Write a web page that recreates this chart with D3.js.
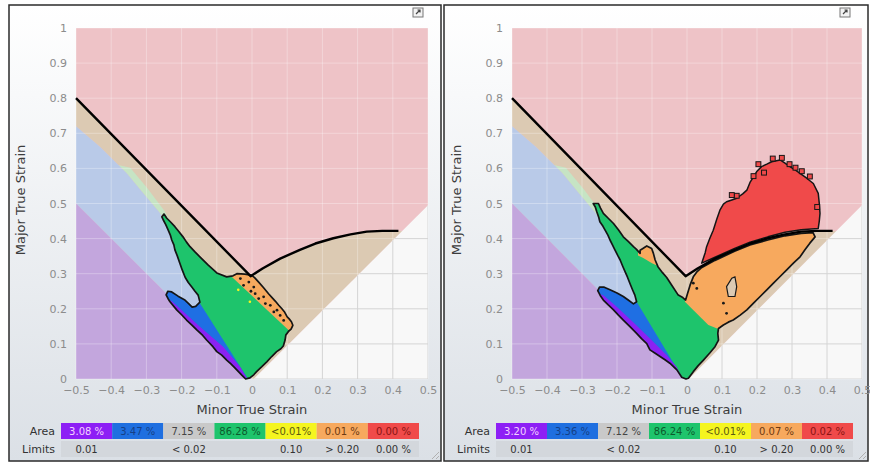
<!DOCTYPE html>
<html>
<head>
<meta charset="utf-8">
<title>Forming Limit Diagram</title>
<script src="https://d3js.org/d3.v7.min.js"></script>
<style>
  body { margin: 0; background: #fff; }
  text { font-family: "DejaVu Sans", sans-serif; }
</style>
</head>
<body>
<script>
// ---- axis ticks ----
var minorTicks = [-0.5, -0.4, -0.3, -0.2, -0.1, 0, 0.1, 0.2, 0.3, 0.4, 0.5];
var majorTicks = [0, 0.1, 0.2, 0.3, 0.4, 0.5, 0.6, 0.7, 0.8, 0.9, 1];

// ---- forming limit curve and zone edges (minor, major) ----
var flc = [[-0.5, 0.8], [-0.004, 0.293], [0.03, 0.315], [0.08, 0.343], [0.136, 0.368], [0.18, 0.386],
           [0.231, 0.401], [0.28, 0.412], [0.326, 0.42], [0.37, 0.422], [0.416, 0.422]];
var wrinkleEdge = [[-0.5, 0.72], [-0.432, 0.662], [-0.356, 0.586], [-0.309, 0.529], [-0.261, 0.472], [0, 0]];
var shearLine = [[-0.5, 0.5], [0, 0]];
var biaxialLine = [[0.005, 0], [0.5, 0.495]];
var flcEndOnBiaxial = [0.427, 0.422];
var goodBand = [[-0.38, 0.61], [-0.356, 0.586], [-0.309, 0.529], [-0.261, 0.472], [-0.225, 0.405],
                [-0.212, 0.41], [-0.248, 0.478], [-0.296, 0.542], [-0.346, 0.602]];

// ---- left panel strain distribution ----
var leftOutline = [
  [-0.250, 0.470], [-0.256, 0.462], [-0.252, 0.453], [-0.245, 0.440], [-0.238, 0.424], [-0.232, 0.410],
  [-0.228, 0.396], [-0.222, 0.382], [-0.219, 0.368], [-0.212, 0.350], [-0.205, 0.330], [-0.198, 0.310],
  [-0.190, 0.290], [-0.181, 0.275], [-0.171, 0.262], [-0.162, 0.250], [-0.153, 0.239], [-0.148, 0.219],
  [-0.160, 0.207], [-0.170, 0.205], [-0.180, 0.215], [-0.192, 0.226], [-0.210, 0.236], [-0.228, 0.248],
  [-0.239, 0.250], [-0.244, 0.240], [-0.238, 0.228], [-0.233, 0.220], [-0.214, 0.197], [-0.200, 0.183],
  [-0.186, 0.168], [-0.170, 0.153], [-0.157, 0.140], [-0.140, 0.124], [-0.129, 0.111], [-0.111, 0.092],
  [-0.100, 0.078], [-0.086, 0.068], [-0.072, 0.054], [-0.060, 0.043], [-0.048, 0.031], [-0.029, 0.011],
  [-0.018, 0.000], [-0.006, 0.003], [0.005, 0.012], [0.013, 0.021], [0.028, 0.035], [0.042, 0.049],
  [0.056, 0.064], [0.070, 0.078], [0.082, 0.086], [0.089, 0.094], [0.094, 0.111], [0.096, 0.125],
  [0.104, 0.136], [0.111, 0.142], [0.116, 0.153], [0.112, 0.163], [0.105, 0.172], [0.100, 0.177],
  [0.093, 0.190], [0.085, 0.200], [0.076, 0.210], [0.066, 0.222], [0.057, 0.232], [0.047, 0.243],
  [0.033, 0.260], [0.019, 0.276], [0.008, 0.288], [0.000, 0.295], [-0.020, 0.299], [-0.043, 0.300],
  [-0.054, 0.294], [-0.072, 0.291], [-0.100, 0.302], [-0.125, 0.325], [-0.148, 0.348], [-0.162, 0.362],
  [-0.176, 0.377], [-0.186, 0.390], [-0.196, 0.405], [-0.208, 0.420], [-0.219, 0.434], [-0.232, 0.448],
  [-0.242, 0.458]
];
var leftBlue = [[-0.148, 0.216], [-0.005, -0.01], [-0.3, -0.01], [-0.3, 0.27], [-0.2, 0.27]];
var leftPurple = [[-0.226, 0.22], [-0.148, 0.149], [-0.082, 0.092], [-0.034, 0.035], [-0.013, 0.0],
                  [-0.005, -0.02], [-0.1, -0.02], [-0.3, 0.2], [-0.26, 0.24]];
var leftOrange = [[-0.07, 0.303], [-0.07, 0.4], [0.3, 0.4], [0.3, 0.129], [0.115, 0.129]];
var leftSpeckles = [[-0.033, 0.286], [-0.024, 0.267], [-0.009, 0.276], [0.005, 0.262], [0.009, 0.243],
                    [-0.003, 0.25], [0.019, 0.229], [0.033, 0.234], [0.038, 0.215], [0.052, 0.21],
                    [0.062, 0.191], [0.071, 0.196], [0.08, 0.181], [0.09, 0.167]];
var leftYellow = [[-0.039, 0.254], [-0.006, 0.22]];

// ---- right panel strain distribution ----
var rightOutline = [
  [-0.268, 0.500], [-0.262, 0.490], [-0.258, 0.477], [-0.252, 0.460], [-0.249, 0.448], [-0.240, 0.435],
  [-0.234, 0.424], [-0.226, 0.410], [-0.220, 0.396], [-0.213, 0.382], [-0.206, 0.368], [-0.198, 0.352],
  [-0.191, 0.339], [-0.184, 0.322], [-0.177, 0.306], [-0.170, 0.290], [-0.163, 0.272], [-0.156, 0.255],
  [-0.149, 0.239], [-0.144, 0.220], [-0.153, 0.214], [-0.168, 0.225], [-0.182, 0.235], [-0.200, 0.245],
  [-0.220, 0.254], [-0.238, 0.262], [-0.250, 0.262], [-0.255, 0.252], [-0.248, 0.238], [-0.239, 0.225],
  [-0.225, 0.211], [-0.210, 0.197], [-0.196, 0.182], [-0.182, 0.168], [-0.163, 0.149], [-0.144, 0.130],
  [-0.130, 0.115], [-0.115, 0.101], [-0.106, 0.083], [-0.092, 0.074], [-0.077, 0.064], [-0.063, 0.055],
  [-0.049, 0.045], [-0.029, 0.026], [-0.015, 0.005], [-0.003, 0.000], [0.004, 0.002], [0.018, 0.021],
  [0.032, 0.038], [0.047, 0.054], [0.065, 0.074], [0.080, 0.092], [0.090, 0.111], [0.088, 0.130],
  [0.090, 0.144], [0.104, 0.154], [0.118, 0.162], [0.132, 0.168], [0.152, 0.182], [0.171, 0.197],
  [0.190, 0.216], [0.209, 0.235], [0.228, 0.254], [0.247, 0.273], [0.266, 0.292], [0.285, 0.311],
  [0.304, 0.330], [0.323, 0.348], [0.337, 0.368], [0.351, 0.387], [0.366, 0.405], [0.360, 0.417],
  [0.326, 0.415], [0.280, 0.408], [0.231, 0.396], [0.180, 0.382], [0.136, 0.364], [0.080, 0.338],
  [0.040, 0.316], [0.029, 0.306], [0.018, 0.291], [0.009, 0.268], [0.002, 0.245], [-0.004, 0.225],
  [-0.012, 0.232], [-0.025, 0.239], [-0.044, 0.268], [-0.058, 0.289], [-0.070, 0.303], [-0.083, 0.320],
  [-0.091, 0.339], [-0.096, 0.358], [-0.101, 0.372], [-0.115, 0.379], [-0.126, 0.372], [-0.134, 0.367],
  [-0.134, 0.358], [-0.145, 0.370], [-0.153, 0.377], [-0.168, 0.392], [-0.182, 0.405], [-0.196, 0.425],
  [-0.210, 0.443], [-0.225, 0.458], [-0.239, 0.472], [-0.247, 0.487], [-0.253, 0.500]
];
var rightBlue = [[-0.144, 0.22], [-0.005, -0.01], [-0.3, -0.01], [-0.3, 0.28], [-0.19, 0.28]];
var rightPurple = [[-0.238, 0.238], [-0.2, 0.205], [-0.15, 0.158], [-0.1, 0.11], [-0.06, 0.07],
                   [-0.03, 0.035], [-0.012, 0.0], [-0.005, -0.02], [-0.1, -0.02], [-0.3, 0.2], [-0.27, 0.25]];
var rightOrange = [[-0.006, 0.22], [0.0, 0.6], [0.5, 0.6], [0.5, 0.14], [0.095, 0.14], [0.061, 0.154]];
var rightLump = [[-0.14, 0.40], [-0.07, 0.40], [-0.078, 0.32], [-0.1, 0.33], [-0.125, 0.345], [-0.14, 0.352]];
var rightHole = [[0.113, 0.263], [0.128, 0.287], [0.137, 0.291], [0.142, 0.263], [0.137, 0.235], [0.118, 0.235]];
var rightSpeckles = [[0.018, 0.273], [0.028, 0.258], [0.104, 0.216], [0.113, 0.187]];
var rightRed = [
  [0.042, 0.330], [0.047, 0.345], [0.052, 0.360], [0.056, 0.377], [0.065, 0.400], [0.075, 0.424],
  [0.085, 0.455], [0.094, 0.481], [0.104, 0.498], [0.113, 0.505], [0.128, 0.510], [0.142, 0.515],
  [0.160, 0.528], [0.171, 0.538], [0.180, 0.560], [0.190, 0.576], [0.200, 0.592], [0.213, 0.605],
  [0.228, 0.612], [0.242, 0.619], [0.266, 0.624], [0.280, 0.615], [0.294, 0.605], [0.310, 0.595],
  [0.323, 0.586], [0.342, 0.572], [0.361, 0.557], [0.375, 0.529], [0.378, 0.500], [0.380, 0.472],
  [0.378, 0.450], [0.375, 0.429], [0.326, 0.425], [0.280, 0.418], [0.231, 0.405], [0.180, 0.390],
  [0.136, 0.372], [0.080, 0.347]
];
var rightSquares = [[0.204, 0.612], [0.245, 0.628], [0.271, 0.630], [0.293, 0.612], [0.328, 0.592],
                    [0.351, 0.577], [0.19, 0.578], [0.142, 0.522], [0.128, 0.524], [0.372, 0.49],
                    [0.22, 0.588], [0.31, 0.602]];

// ---- legend ----
var legendColors = ["#8d1ff5", "#1f6fe0", "#c9c9c9", "#1ec46c", "#f5f520", "#f7a95e", "#f04a4a"];
var legendTextColors = ["#f4d2ff", "#163f86", "#444444", "#0d5a2c", "#5c5a10", "#6e3a12", "#8a1414"];
var areaLeft = ["3.08 %", "3.47 %", "7.15 %", "86.28 %", "<0.01%", "0.01 %", "0.00 %"];
var areaRight = ["3.20 %", "3.36 %", "7.12 %", "86.24 %", "<0.01%", "0.07 %", "0.02 %"];
var limitLabels = ["0.01", "", "< 0.02", "", "0.10", "> 0.20", "0.00 %"];

var W = 870, H = 463;
var svg = d3.select("body").append("svg").attr("width", W).attr("height", H);
var defs = svg.append("defs");
var grad = defs.append("linearGradient").attr("id", "panelbg")
  .attr("x1", 0).attr("y1", 0).attr("x2", 0).attr("y2", 1);
grad.append("stop").attr("offset", "0%").attr("stop-color", "#ffffff");
grad.append("stop").attr("offset", "100%").attr("stop-color", "#dbe0e6");

var panels = [
  {id: "L", box: [9, 5, 441, 461], plot: [76, 428], legend: [61, 419], labelX: 55,
   area: areaLeft, outline: leftOutline,
   parts: [[leftBlue, "#1f6fe3"], [leftPurple, "#8b22f2"], [leftOrange, "#f7a95e"]],
   speckles: leftSpeckles, yellow: leftYellow},
  {id: "R", box: [444, 5, 868, 461], plot: [512, 862], legend: [496, 853], labelX: 490,
   area: areaRight, outline: rightOutline,
   parts: [[rightBlue, "#1f6fe3"], [rightPurple, "#8b22f2"], [rightOrange, "#f7a95e"], [rightLump, "#f7a95e"]],
   speckles: rightSpeckles, yellow: [], red: rightRed, squares: rightSquares, hole: rightHole}
];

panels.forEach(function(p) {
  var b = p.box;
  svg.append("rect").attr("x", b[0]).attr("y", b[1]).attr("width", b[2] - b[0]).attr("height", b[3] - b[1])
    .attr("fill", "url(#panelbg)").attr("stroke", "#2b2b2b").attr("stroke-width", 1.5);

  var x = d3.scaleLinear().domain([-0.5, 0.5]).range(p.plot);
  var y = d3.scaleLinear().domain([0, 1]).range([379, 28]);
  var line = d3.line().x(function(d) { return x(d[0]); }).y(function(d) { return y(d[1]); });
  var g = svg.append("g");

  // zones
  g.append("rect").attr("x", x(-0.5)).attr("y", y(1)).attr("width", x(0.5) - x(-0.5))
    .attr("height", y(0) - y(1)).attr("fill", "#eec3c7");
  var tan = flc.concat([flcEndOnBiaxial, biaxialLine[0]]).concat(wrinkleEdge.slice().reverse());
  g.append("path").attr("d", line(tan) + "Z").attr("fill", "#dccab3");
  g.append("path").attr("d", line(goodBand) + "Z").attr("fill", "#c6e4c4");
  g.append("path").attr("d", line(wrinkleEdge.concat([shearLine[0]])) + "Z").attr("fill", "#b9cae8");
  g.append("path").attr("d", line(shearLine.concat([[-0.5, 0]])) + "Z").attr("fill", "#c3a6dd");
  var white = biaxialLine.concat([[0.5, 0]]);
  g.append("path").attr("d", line(white) + "Z").attr("fill", "#f8f8f8");

  // grid
  var grid = g.append("g").attr("stroke", "#ffffff").attr("stroke-opacity", 0.3);
  grid.selectAll(".v").data(minorTicks).enter().append("line")
    .attr("x1", function(d) { return x(d); }).attr("x2", function(d) { return x(d); })
    .attr("y1", y(0)).attr("y2", y(1));
  grid.selectAll(".h").data(majorTicks).enter().append("line")
    .attr("y1", function(d) { return y(d); }).attr("y2", function(d) { return y(d); })
    .attr("x1", x(-0.5)).attr("x2", x(0.5));
  defs.append("clipPath").attr("id", "white" + p.id).append("path").attr("d", line(white) + "Z");
  var wgrid = g.append("g").attr("clip-path", "url(#white" + p.id + ")").attr("stroke", "#d4d4d4");
  wgrid.selectAll(".v").data(minorTicks).enter().append("line")
    .attr("x1", function(d) { return x(d); }).attr("x2", function(d) { return x(d); })
    .attr("y1", y(0)).attr("y2", y(1));
  wgrid.selectAll(".h").data(majorTicks).enter().append("line")
    .attr("y1", function(d) { return y(d); }).attr("y2", function(d) { return y(d); })
    .attr("x1", x(-0.5)).attr("x2", x(0.5));

  // strain distribution
  defs.append("clipPath").attr("id", "cloud" + p.id).append("path").attr("d", line(p.outline) + "Z");
  var c = g.append("g").attr("clip-path", "url(#cloud" + p.id + ")");
  c.append("path").attr("d", line(p.outline) + "Z").attr("fill", "#1ec46c");
  p.parts.forEach(function(part) {
    c.append("path").attr("d", line(part[0]) + "Z").attr("fill", part[1]);
  });
  c.selectAll(".yl").data(p.yellow).enter().append("circle")
    .attr("cx", function(d) { return x(d[0]); }).attr("cy", function(d) { return y(d[1]); })
    .attr("r", 1.3).attr("fill", "#f5f520");
  if (p.hole) {
    g.append("path").attr("d", line(p.hole) + "Z").attr("fill", "#dccab3")
      .attr("stroke", "#1a1a1a").attr("stroke-width", 1.2);
  }
  g.append("path").attr("d", line(p.outline) + "Z").attr("fill", "none")
    .attr("stroke", "#151515").attr("stroke-width", 1.7).attr("stroke-linejoin", "round");
  g.selectAll(".sp").data(p.speckles).enter().append("circle")
    .attr("cx", function(d) { return x(d[0]); }).attr("cy", function(d) { return y(d[1]); })
    .attr("r", 1.4).attr("fill", "#1a1a1a");

  if (p.red) {
    g.append("path").attr("d", line(p.red) + "Z").attr("fill", "#f04a4a")
      .attr("stroke", "#151515").attr("stroke-width", 1.5).attr("stroke-linejoin", "round");
    g.selectAll(".sq").data(p.squares).enter().append("rect")
      .attr("x", function(d) { return x(d[0] - 0.007); }).attr("y", function(d) { return y(d[1] + 0.007); })
      .attr("width", function(d) { return x(d[0] + 0.007) - x(d[0] - 0.007); })
      .attr("height", function(d) { return y(d[1] - 0.007) - y(d[1] + 0.007); })
      .attr("fill", "#f04a4a").attr("stroke", "#151515").attr("stroke-width", 1);
  }

  // forming limit curve
  g.append("path").attr("d", line(flc)).attr("fill", "none")
    .attr("stroke", "#000").attr("stroke-width", 2.4).attr("stroke-linejoin", "round");

  // axes
  var ax = g.append("g").attr("transform", "translate(0," + 390.5 + ")")
    .call(d3.axisBottom(x).tickValues(minorTicks).tickSize(0).tickPadding(0).tickFormat(d3.format("")));
  ax.select(".domain").remove();
  ax.selectAll("text").attr("fill", "#8c8c8c").attr("font-size", 11).attr("dy", "0.35em")
    .attr("font-family", "DejaVu Sans");
  var ay = g.append("g").attr("transform", "translate(" + (p.plot[0] - 9) + ",0)")
    .call(d3.axisLeft(y).tickValues(majorTicks).tickSize(0).tickPadding(0).tickFormat(d3.format("")));
  ay.select(".domain").remove();
  ay.selectAll("text").attr("fill", "#8c8c8c").attr("font-size", 11).attr("font-family", "DejaVu Sans");

  g.append("text").attr("x", x(0)).attr("y", 409).attr("dy", "0.35em").attr("text-anchor", "middle")
    .attr("font-size", 13).attr("fill", "#3c3c3c").text("Minor True Strain");
  g.append("text").attr("transform", "translate(" + (p.plot[0] - 56) + "," + 200 + ") rotate(-90)")
    .attr("dy", "0.35em").attr("text-anchor", "middle")
    .attr("font-size", 13).attr("fill", "#3c3c3c").text("Major True Strain");

  // legend
  var lx = d3.scaleBand().domain(d3.range(legendColors.length)).range(p.legend);
  g.append("rect").attr("x", p.legend[0]).attr("y", 441).attr("width", p.legend[1] - p.legend[0])
    .attr("height", 16).attr("fill", "#d3d7dc");
  g.selectAll(".lb").data(legendColors).enter().append("rect")
    .attr("x", function(d, i) { return lx(i); }).attr("y", 423).attr("width", lx.bandwidth())
    .attr("height", 16).attr("fill", function(d) { return d; });
  g.selectAll(".lt").data(p.area).enter().append("text")
    .attr("x", function(d, i) { return lx(i) + lx.bandwidth() / 2; }).attr("y", 431).attr("dy", "0.35em")
    .attr("text-anchor", "middle").attr("font-size", 10)
    .attr("fill", function(d, i) { return legendTextColors[i]; }).text(function(d) { return d; });
  g.selectAll(".ll").data(limitLabels).enter().append("text")
    .attr("x", function(d, i) { return lx(i) + lx.bandwidth() / 2; }).attr("y", 449).attr("dy", "0.35em")
    .attr("text-anchor", "middle").attr("font-size", 10).attr("fill", "#333").text(function(d) { return d; });
  g.append("text").attr("x", p.labelX).attr("y", 431).attr("dy", "0.35em").attr("text-anchor", "end")
    .attr("font-size", 11).attr("fill", "#333").text("Area");
  g.append("text").attr("x", p.labelX).attr("y", 449).attr("dy", "0.35em").attr("text-anchor", "end")
    .attr("font-size", 11).attr("fill", "#333").text("Limits");

  // window icon and resize grip
  var ix = b[2] - 28;
  g.append("rect").attr("x", ix).attr("y", 8).attr("width", 10).attr("height", 9)
    .attr("fill", "#f2f2f2").attr("stroke", "#777").attr("stroke-width", 1);
  g.append("path").attr("d", "M" + (ix + 3) + ",14 L" + (ix + 7) + ",10 M" + (ix + 4.5) + ",10 L" + (ix + 7) + ",10 L" + (ix + 7) + ",12.5")
    .attr("stroke", "#444").attr("stroke-width", 1.2).attr("fill", "none");
  g.append("path").attr("d", "M" + (b[2] - 9) + "," + (b[3] - 2) + " L" + (b[2] - 2) + "," + (b[3] - 9) +
      " M" + (b[2] - 5) + "," + (b[3] - 2) + " L" + (b[2] - 2) + "," + (b[3] - 5))
    .attr("stroke", "#b0b0b0").attr("stroke-width", 1);
});
</script>
</body>
</html>
